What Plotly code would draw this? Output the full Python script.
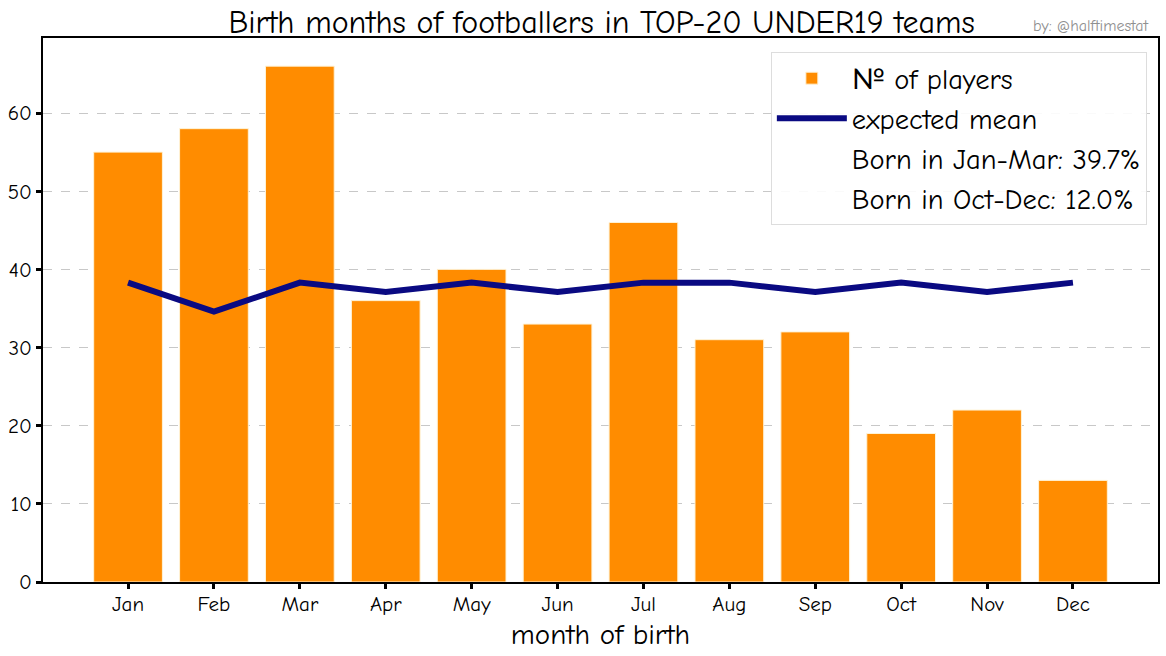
import plotly.graph_objects as go

# Data
months = ["Jan", "Feb", "Mar", "Apr", "May", "Jun", "Jul", "Aug", "Sep", "Oct", "Nov", "Dec"]
players = [55, 58, 66, 36, 40, 33, 46, 31, 32, 19, 22, 13]
expected_mean = [38.3, 34.6, 38.3, 37.1, 38.3, 37.1, 38.3, 38.3, 37.1, 38.3, 37.1, 38.3]
y_ticks = [0, 10, 20, 30, 40, 50, 60]

total = sum(players)
jan_mar = 100 * sum(players[:3]) / total
oct_dec = 100 * sum(players[9:]) / total

font_family = "Comic Sans MS, Comic Neue, Lato, DejaVu Sans, sans-serif"

fig = go.Figure()

# Bars
fig.add_trace(go.Bar(
    x=months,
    y=players,
    width=0.8,
    marker=dict(color="#FF8C00", line=dict(width=1, color="#FFF3D6")),
    name="№ of players",
))

# Expected mean line
fig.add_trace(go.Scatter(
    x=months,
    y=expected_mean,
    mode="lines",
    line=dict(color="#0A0A82", width=6),
    name="expected mean",
))

# Text-only legend entries
for label in [f"Born in Jan-Mar: {jan_mar:.1f}%", f"Born in Oct-Dec: {oct_dec:.1f}%"]:
    fig.add_trace(go.Scatter(
        x=[None], y=[None],
        mode="lines",
        line=dict(color="rgba(0,0,0,0)", width=0),
        name=label,
    ))

fig.update_layout(
    width=1166,
    height=656,
    margin=dict(l=43, r=8, t=38, b=74),
    paper_bgcolor="white",
    plot_bgcolor="white",
    font=dict(family=font_family, color="black", size=21),
    title=dict(
        text="Birth months of footballers in TOP-20 UNDER19 teams",
        x=0.516, xanchor="center",
        y=0.9665, yanchor="middle",
        font=dict(size=32, family=font_family),
        automargin=False,
    ),
    legend=dict(
        x=0.99, xanchor="right",
        y=0.974, yanchor="top",
        bgcolor="rgba(255,255,255,0.9)",
        bordercolor="#DDDDDD",
        borderwidth=1,
        font=dict(size=28.5, family=font_family),
        itemwidth=70,
        tracegroupgap=4,
    ),
    xaxis=dict(
        range=[-0.99, 11.99],
        automargin=False,
        showline=True, linecolor="black", linewidth=2, mirror=True,
        ticks="outside", ticklen=5, tickwidth=3, tickcolor="black",
        ticklabelstandoff=-3,
        showgrid=False,
        tickfont=dict(size=21),
        title=dict(text="month of birth", font=dict(size=29), standoff=8),
    ),
    yaxis=dict(
        range=[0, 69.6],
        tickvals=y_ticks,
        automargin=False,
        showline=True, linecolor="black", linewidth=2, mirror=True,
        ticks="outside", ticklen=5, tickwidth=3, tickcolor="black",
        showgrid=True, gridcolor="#C8C8C8", griddash="dash", gridwidth=1,
        zeroline=False,
        tickfont=dict(size=21),
    ),
    annotations=[
        dict(
            text="by: @halftimestat",
            xref="paper", yref="paper",
            x=1.0, y=1.0, xanchor="right", yanchor="bottom",
            xshift=-8, yshift=1,
            showarrow=False,
            font=dict(size=16, color="#909090", family=font_family),
        )
    ],
)

# drop the default 8px body margin so the figure fills the window
fig.write_html(
    "out.html",
    config={"displayModeBar": False},
    post_script="document.body.style.margin='0';",
)
